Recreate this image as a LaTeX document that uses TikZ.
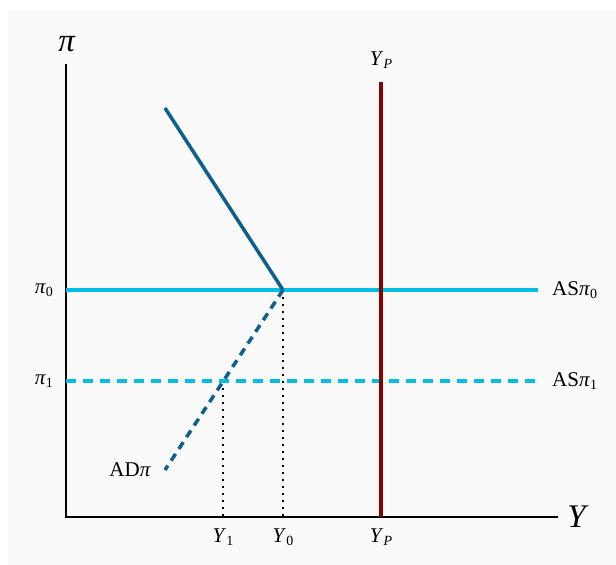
\documentclass[tikz,border=0pt]{standalone}
\usepackage{fontspec}
\setmainfont{Liberation Serif}
\usetikzlibrary{positioning}
\definecolor{paper}{RGB}{250,250,250}
\definecolor{ascyan}{RGB}{0,190,228}
\definecolor{addeep}{RGB}{12,96,142}
\definecolor{potred}{RGB}{139,0,0}
\newcommand{\ipi}{\textit{π}}
\newcommand{\iY}{\textit{Y}}
\newcommand{\lowsub}[1]{\raisebox{-0.35ex}{\fontsize{14}{14}\selectfont #1}}

\begin{document}
\begin{tikzpicture}[x=1pt,y=-1pt,
  axisline/.style={line width=1.5pt,draw=black},
  biglabel/.style={font=\fontsize{33}{33}\selectfont,inner sep=0pt},
  ticklabel/.style={font=\fontsize{21}{21}\selectfont,inner sep=0pt},
  asline/.style={line width=4pt,draw=ascyan},
  adline/.style={line width=3.5pt,draw=addeep},
  potline/.style={line width=4pt,draw=potred},
  guide/.style={line width=2pt,dash pattern=on 2pt off 5pt}]
\useasboundingbox (0,0) rectangle (616,565);
\fill[paper] (8,11) rectangle (616,565);
% axes
\coordinate (origin) at (66,517);
\coordinate (ytop) at (66,64);
\coordinate (xend) at (558,517);
\draw[axisline] (ytop) -- (origin) -- (xend);
\node[biglabel] (pilabel) at (67,44) {\ipi};
\node[biglabel] (ylabel) at (578,517) {\iY};
% key points
\coordinate (eq0) at (283,290);
\coordinate (eq1) at (223.3,381);
\coordinate (adtop) at (165,108);
\coordinate (adlow) at (165,470);
\coordinate (y0foot) at (283,517);
\coordinate (y1foot) at (223.3,517);
\coordinate (as0left) at (66,290);
\coordinate (as0right) at (538,290);
\coordinate (as1left) at (66,381);
\coordinate (as1right) at (538,381);
\coordinate (yptop) at (381,82);
\coordinate (ypfoot) at (381,517);
% guides
\draw[guide] (eq0) -- (y0foot);
\draw[guide] (eq1) -- (y1foot);
% AS curves
\draw[asline] (as0left) -- (as0right);
\draw[asline,dash pattern=on 10pt off 7pt] (as1left) -- (as1right);
% AD curve
\draw[adline] (adtop) -- (eq0);
\draw[adline,dash pattern=on 8pt off 6pt] (eq0) -- (adlow);
% potential output
\draw[potline] (yptop) -- (ypfoot);
% labels
\node[ticklabel,anchor=east] (pi0) at (53,290) {\ipi\lowsub{0}};
\node[ticklabel,anchor=east] (pi1) at (53,381) {\ipi\lowsub{1}};
\node[ticklabel,anchor=west] (as0) at (552,290) {AS\ipi\lowsub{0}};
\node[ticklabel,anchor=west] (as1) at (552,381) {AS\ipi\lowsub{1}};
\node[ticklabel,anchor=east] (adlabel) at (151,470) {AD\ipi};
\node[ticklabel] (y1) at (223,537) {\iY\lowsub{1}};
\node[ticklabel] (y0) at (283,537) {\iY\lowsub{0}};
\node[ticklabel] (ypbot) at (381,537) {\iY\lowsub{\textit{P}}};
\node[ticklabel] (yptoplabel) at (381,60) {\iY\lowsub{\textit{P}}};
\end{tikzpicture}
\end{document}
